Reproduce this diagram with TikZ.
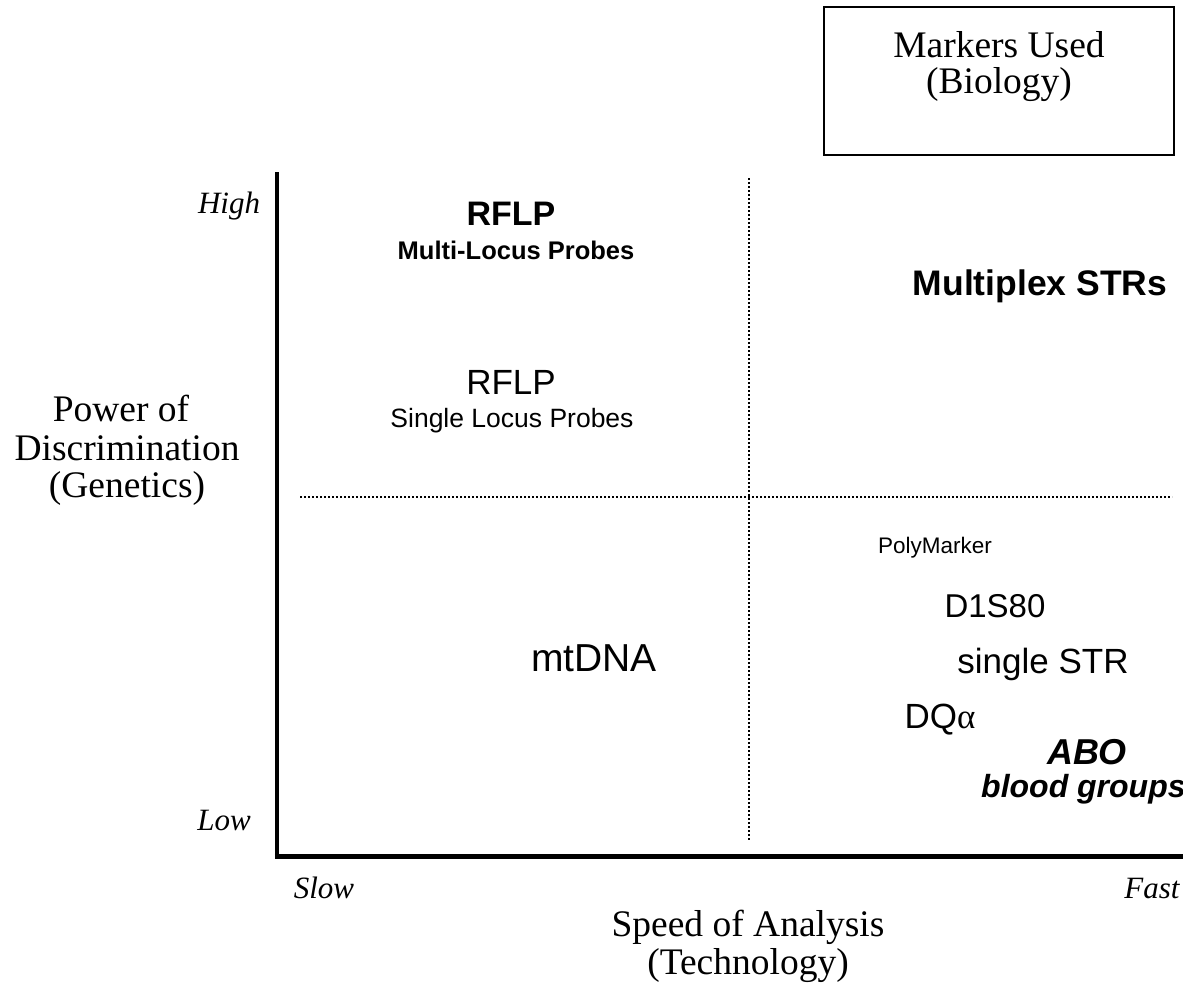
\documentclass[tikz,border=0pt]{standalone}
\usepackage{fontspec}
\setmainfont{Liberation Serif}
\setsansfont{Liberation Sans}
\newfontfamily\arialf{Liberation Sans}
\newfontfamily\timesf{Liberation Serif}
\tikzset{
  axisline/.style={line width=4.5pt},
  gridline/.style={line width=1.6pt, dash pattern=on 1.6pt off 2.4pt},
  serifbig/.style={font=\fontsize{37.5}{42}\selectfont, inner sep=0pt},
  serifital/.style={font=\fontsize{31}{36}\itshape, inner sep=0pt},
  sansbig/.style={font=\fontsize{35}{40}\arialf, inner sep=0pt},
  markbox/.style={draw, line width=2pt},
}
\begin{document}
\begin{tikzpicture}[x=1pt,y=-1pt]
\useasboundingbox (0,0) rectangle (1183,990);
% box
\node[markbox, minimum width=350pt, minimum height=148pt, inner sep=0pt] (box) at (999,81) {};
\node[serifbig] (mu) at (999,45) {Markers Used};
\node[serifbig] (bio) at (999,85) {(Biology)};
% axes
\coordinate (ytop) at (277,172);
\coordinate (origin) at (277,856.5);
\coordinate (xend) at (1183,856.5);
\draw[axisline] (ytop) -- (277,858.75);
\draw[axisline] (274.75,856.5) -- (xend);
% grid
\coordinate (hl) at (300,497);
\coordinate (hr) at (1172,497);
\coordinate (vt) at (749,178);
\coordinate (vb) at (749,840);
\draw[gridline] (hl) -- (hr);
\draw[gridline] (vt) -- (vb);
% axis labels
\node[serifital] (high) at (229,206) {High};
\node[serifital] (low) at (224,820) {Low};
\node[serifital] (slow) at (324,888) {Slow};
\node[serifital] (fast) at (1152,888) {Fast};
\node[serifbig] (p1) at (121,408) {Power of};
\node[serifbig] (p2) at (127,448) {Discrimination};
\node[serifbig] (p3) at (127,488) {(Genetics)};
\node[serifbig] (s1) at (748,927) {Speed of Analysis};
\node[serifbig] (s2) at (748,966) {(Technology)};
% markers
\node[sansbig, font=\fontsize{34}{40}\arialf\bfseries] (rflp1) at (511,214) {RFLP};
\node[sansbig, font=\fontsize{25.5}{30}\arialf\bfseries] (mlp) at (516,250) {Multi-Locus Probes};
\node[sansbig, font=\fontsize{35.5}{40}\arialf\bfseries] (mstr) at (1040,286) {Multiplex STRs};
\node[sansbig] (rflp2) at (511,382) {RFLP};
\node[sansbig, font=\fontsize{26.5}{30}\arialf] (slp) at (512,421) {Single Locus Probes};
\node[sansbig, font=\fontsize{22.5}{27}\arialf] (poly) at (935,548) {PolyMarker};
\node[sansbig, font=\fontsize{33}{38}\arialf] (d1s) at (995,606) {D1S80};
\node[sansbig] (sstr) at (1043,664) {single STR};
\node[sansbig, font=\fontsize{39}{44}\arialf] (mt) at (594,658) {mtDNA};
\node[sansbig] (dqa) at (940,720) {DQ{\timesf α}};
\node[sansbig, font=\fontsize{36}{40}\arialf\bfseries\itshape] (abo) at (1087,752) {ABO};
\node[sansbig, font=\fontsize{32}{36}\arialf\bfseries\itshape, anchor=west] (bg) at (981,789) {blood groups};
\end{tikzpicture}
\end{document}
